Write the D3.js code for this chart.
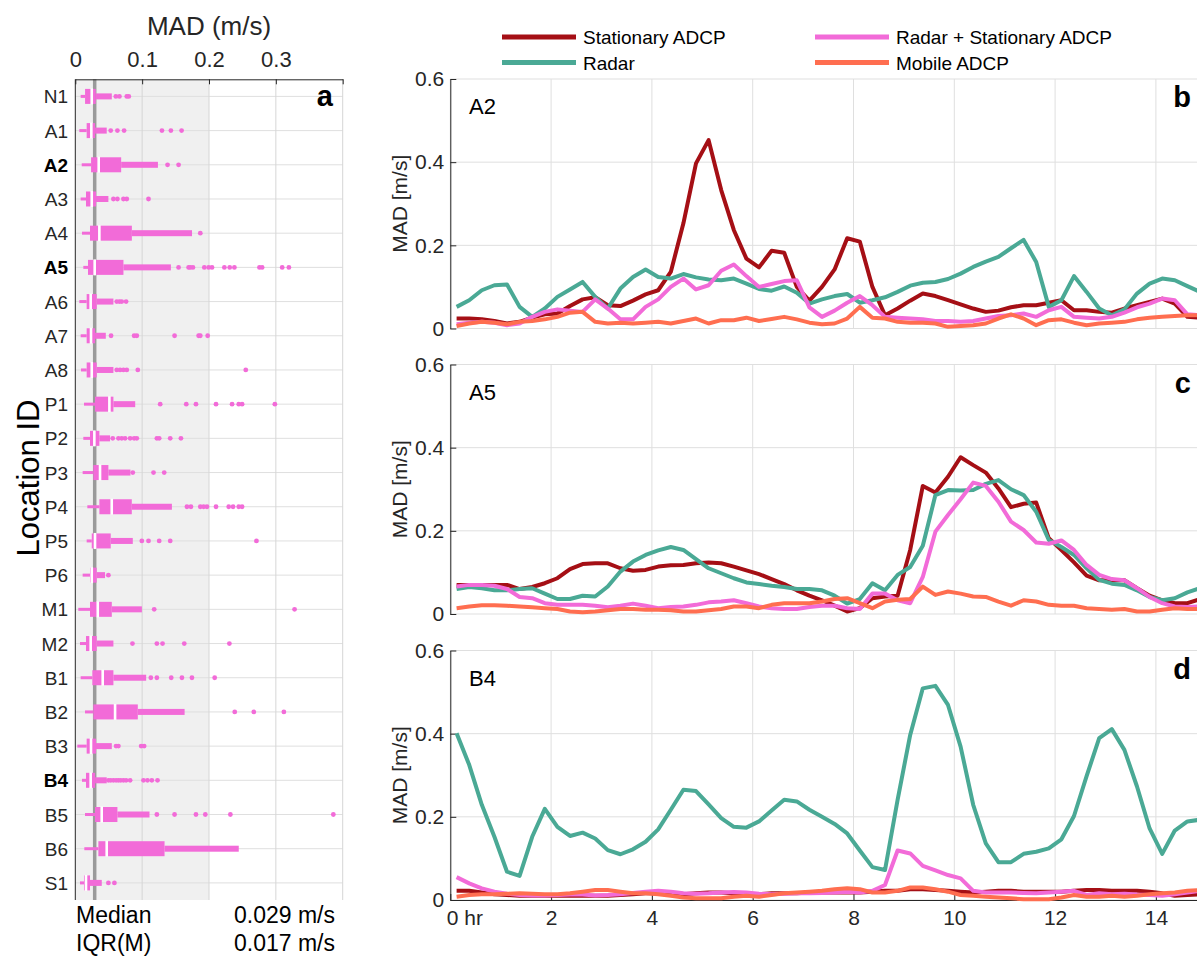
<!DOCTYPE html>
<html>
<head>
<meta charset="utf-8">
<script src="https://cdn.jsdelivr.net/npm/d3@7"></script>
<style>
body { margin: 0; background: #fff; }
svg { font-family: "Liberation Sans", Arial, sans-serif; }
</style>
</head>
<body>
<svg id="chart" width="1197" height="958"></svg>
<script>
// ---- panel a: spread of MAD per location ----
var locationIds = ["N1","A1","A2","A3","A4","A5","A6","A7","A8","P1","P2","P3","P4","P5","P6","M1","M2","B1","B2","B3","B4","B5","B6","S1"];
var boldIds = ["A2","A5","B4"];
var whiskerLow  = [0.008,0.006,0.0096,0.008,0.010,0.012,0.006,0.008,0.0085,0.013,0.012,0.011,0.018,0.017,0.011,0.0045,0.007,0.008,0.0145,0.003,0.010,0.0145,0.0135,0.007];
var boxLow      = [0.0146,0.017,0.0236,0.016,0.022,0.019,0.017,0.017,0.017,0.0295,0.022,0.027,0.036,0.0246,0.022,0.022,0.016,0.0255,0.027,0.017,0.016,0.0295,0.0345,0.013];
var medians     = [0.0246,0.024,0.035,0.0246,0.036,0.029,0.023,0.0235,0.0246,0.051,0.0285,0.037,0.0545,0.0295,0.0246,0.0336,0.023,0.041,0.0595,0.0235,0.023,0.0395,0.047,0.016];
var boxHigh     = [0.0306,0.0296,0.0686,0.031,0.0846,0.072,0.032,0.0296,0.032,0.057,0.036,0.0495,0.0845,0.053,0.032,0.0546,0.032,0.057,0.0935,0.031,0.0296,0.063,0.1335,0.022];
var whiskerHigh = [0.0546,0.047,0.1236,0.0495,0.1746,0.143,0.057,0.0456,0.057,0.0896,0.052,0.0825,0.1445,0.086,0.0445,0.0996,0.057,0.106,0.1635,0.0546,0.047,0.111,0.2445,0.0396];
var outliers = [
  [0.0606,0.066,0.077,0.080],
  [0.053,0.063,0.073,0.1296,0.143,0.159],
  [0.138,0.1545],
  [0.057,0.063,0.072,0.077,0.1095],
  [0.187],
  [0.1545,0.1695,0.172,0.176,0.193,0.1995,0.2045,0.223,0.231,0.238,0.2755,0.2795,0.3095,0.3195],
  [0.062,0.066,0.0695,0.076],
  [0.0535,0.088,0.092,0.1485,0.1845,0.187,0.198],
  [0.062,0.067,0.072,0.077,0.0935,0.255],
  [0.127,0.166,0.1805,0.2105,0.2345,0.2445,0.2495,0.2985],
  [0.056,0.0645,0.0695,0.0745,0.082,0.088,0.092,0.122,0.1255,0.142,0.158],
  [0.086,0.117,0.133],
  [0.167,0.173,0.187,0.192,0.197,0.2105,0.2295,0.236,0.2445,0.2495],
  [0.0995,0.1095,0.1255,0.142,0.271],
  [0.0495],
  [0.118,0.328],
  [0.0855,0.122,0.1305,0.163,0.2305],
  [0.113,0.122,0.1435,0.1595,0.1745,0.2085],
  [0.2385,0.267,0.312],
  [0.061,0.0645,0.0985,0.103],
  [0.0495,0.053,0.057,0.061,0.0645,0.068,0.072,0.076,0.082,0.102,0.108,0.1145,0.123],
  [0.122,0.1485,0.1805,0.1945,0.232,0.386],
  [],
  [0.0495,0.0585]
];
var overallMedian = 0.029;
var overallIqr = 0.017;
var shadeLimit = 0.2;
var madTicks = [0, 0.1, 0.2, 0.3];

// ---- panels b-d: MAD through the tide ----
var hours = [0.125,0.375,0.625,0.875,1.125,1.375,1.625,1.875,2.125,2.375,2.625,2.875,3.125,3.375,3.625,3.875,
  4.125,4.375,4.625,4.875,5.125,5.375,5.625,5.875,6.125,6.375,6.625,6.875,7.125,7.375,7.625,7.875,
  8.125,8.375,8.625,8.875,9.125,9.375,9.625,9.875,10.125,10.375,10.625,10.875,11.125,11.375,11.625,11.875,
  12.125,12.375,12.625,12.875,13.125,13.375,13.625,13.875,14.125,14.375,14.625,14.875];
var hourTicks = [0, 2, 4, 6, 8, 10, 12, 14];
var madTicksRight = [0, 0.2, 0.4, 0.6];
var seriesNames = ["Stationary ADCP", "Radar", "Radar + Stationary ADCP", "Mobile ADCP"];
var seriesColors = ["#a50f15", "#4aa995", "#f26bd8", "#ff6e50"];

var a2Stationary = [0.024,0.024,0.022,0.018,0.012,0.016,0.026,0.034,0.036,0.054,0.070,0.075,0.056,0.054,0.067,0.082,0.092,0.136,0.253,0.397,0.453,0.333,0.237,0.168,0.147,0.187,0.182,0.100,
  0.067,0.100,0.142,0.217,0.209,0.100,0.032,0.048,0.067,0.084,0.078,0.068,0.058,0.048,0.040,0.043,0.051,0.056,0.056,0.062,0.068,0.044,0.044,0.040,0.038,0.048,0.056,0.064,0.072,0.060,0.028,0.026];
var a2Radar = [0.052,0.068,0.092,0.104,0.106,0.052,0.028,0.048,0.076,0.094,0.112,0.076,0.048,0.096,0.124,0.142,0.124,0.120,0.131,0.123,0.118,0.116,0.120,0.108,0.095,0.091,0.101,0.086,
  0.060,0.070,0.078,0.083,0.062,0.068,0.075,0.088,0.103,0.110,0.112,0.119,0.132,0.148,0.161,0.172,0.193,0.213,0.160,0.052,0.068,0.126,0.088,0.048,0.032,0.046,0.084,0.108,0.120,0.116,0.102,0.088];
var a2Combined = [0.010,0.014,0.016,0.014,0.008,0.012,0.028,0.040,0.046,0.043,0.040,0.070,0.048,0.022,0.022,0.052,0.070,0.100,0.120,0.094,0.104,0.139,0.154,0.126,0.100,0.107,0.114,0.116,
  0.051,0.028,0.043,0.062,0.078,0.056,0.028,0.026,0.024,0.022,0.018,0.018,0.016,0.018,0.024,0.030,0.032,0.036,0.028,0.044,0.052,0.028,0.026,0.024,0.028,0.038,0.051,0.060,0.072,0.068,0.034,0.032];
var a2Mobile = [0.006,0.012,0.016,0.014,0.010,0.016,0.018,0.022,0.028,0.038,0.040,0.016,0.012,0.014,0.012,0.014,0.016,0.012,0.018,0.024,0.012,0.020,0.020,0.026,0.018,0.023,0.028,0.022,
  0.014,0.010,0.012,0.024,0.052,0.026,0.024,0.016,0.014,0.014,0.012,0.004,0.006,0.008,0.012,0.024,0.034,0.024,0.008,0.020,0.022,0.014,0.008,0.012,0.014,0.016,0.022,0.026,0.028,0.030,0.032,0.032];

var a5Stationary = [0.070,0.070,0.070,0.070,0.070,0.060,0.065,0.074,0.086,0.108,0.120,0.122,0.122,0.110,0.104,0.106,0.114,0.117,0.118,0.122,0.124,0.122,0.114,0.105,0.096,0.084,0.072,0.057,
  0.044,0.033,0.020,0.006,0.014,0.038,0.042,0.044,0.154,0.308,0.292,0.330,0.377,0.358,0.340,0.302,0.257,0.265,0.268,0.182,0.154,0.124,0.092,0.081,0.081,0.081,0.062,0.044,0.033,0.026,0.026,0.036];
var a5Radar = [0.060,0.065,0.062,0.057,0.057,0.060,0.062,0.049,0.036,0.036,0.044,0.042,0.066,0.102,0.126,0.142,0.153,0.161,0.154,0.132,0.110,0.098,0.086,0.076,0.072,0.068,0.065,0.060,
  0.060,0.057,0.044,0.025,0.036,0.074,0.057,0.094,0.113,0.164,0.286,0.298,0.297,0.298,0.313,0.322,0.300,0.286,0.246,0.178,0.161,0.142,0.110,0.082,0.073,0.070,0.057,0.041,0.033,0.038,0.052,0.062];
var a5Combined = [0.066,0.070,0.070,0.068,0.060,0.041,0.038,0.026,0.022,0.022,0.022,0.020,0.016,0.020,0.025,0.020,0.014,0.017,0.018,0.022,0.028,0.030,0.033,0.026,0.018,0.014,0.012,0.012,
  0.017,0.020,0.020,0.014,0.012,0.049,0.049,0.033,0.026,0.089,0.198,0.238,0.276,0.316,0.308,0.270,0.222,0.202,0.172,0.169,0.177,0.154,0.118,0.094,0.084,0.081,0.062,0.041,0.026,0.018,0.017,0.018];
var a5Mobile = [0.014,0.018,0.021,0.021,0.020,0.018,0.016,0.014,0.012,0.006,0.004,0.006,0.009,0.012,0.012,0.010,0.010,0.009,0.006,0.006,0.009,0.012,0.018,0.018,0.014,0.022,0.026,0.026,
  0.026,0.030,0.036,0.038,0.026,0.014,0.030,0.034,0.036,0.066,0.046,0.054,0.049,0.042,0.041,0.030,0.020,0.033,0.030,0.022,0.020,0.020,0.014,0.012,0.010,0.012,0.006,0.006,0.010,0.014,0.012,0.012];

var b4Stationary = [0.022,0.022,0.018,0.014,0.012,0.010,0.010,0.010,0.010,0.010,0.010,0.010,0.010,0.012,0.014,0.016,0.016,0.014,0.014,0.016,0.018,0.018,0.016,0.014,0.014,0.016,0.016,0.016,
  0.018,0.018,0.018,0.018,0.018,0.020,0.022,0.022,0.026,0.026,0.024,0.022,0.020,0.018,0.020,0.022,0.022,0.020,0.020,0.020,0.020,0.022,0.024,0.024,0.022,0.022,0.022,0.020,0.016,0.010,0.012,0.014];
var b4Radar = [0.401,0.325,0.229,0.152,0.068,0.058,0.152,0.219,0.176,0.154,0.162,0.148,0.120,0.110,0.122,0.140,0.170,0.217,0.265,0.262,0.230,0.197,0.176,0.174,0.189,0.215,0.241,0.237,
  0.217,0.200,0.183,0.160,0.119,0.079,0.072,0.241,0.397,0.509,0.515,0.469,0.369,0.229,0.136,0.091,0.091,0.111,0.116,0.124,0.146,0.202,0.298,0.389,0.411,0.361,0.273,0.172,0.111,0.167,0.189,0.193];
var b4Combined = [0.055,0.040,0.028,0.020,0.015,0.012,0.011,0.011,0.012,0.013,0.013,0.011,0.012,0.014,0.017,0.020,0.022,0.020,0.016,0.015,0.016,0.018,0.019,0.018,0.015,0.014,0.015,0.016,
  0.016,0.017,0.018,0.020,0.018,0.022,0.036,0.119,0.112,0.082,0.071,0.060,0.052,0.022,0.018,0.018,0.018,0.017,0.016,0.018,0.020,0.022,0.012,0.016,0.014,0.015,0.013,0.012,0.010,0.014,0.018,0.022];
var b4Mobile = [0.008,0.012,0.014,0.014,0.015,0.016,0.015,0.014,0.014,0.016,0.020,0.024,0.024,0.020,0.016,0.016,0.014,0.010,0.006,0.004,0.004,0.004,0.008,0.010,0.008,0.012,0.016,0.018,
  0.020,0.022,0.026,0.028,0.026,0.018,0.018,0.022,0.030,0.030,0.026,0.020,0.012,0.010,0.008,0.006,0.004,0.002,0.002,0.002,0.006,0.012,0.008,0.008,0.010,0.008,0.010,0.014,0.016,0.018,0.022,0.024];

var panels = [
  {site: "A2", letter: "b", series: [a2Stationary, a2Radar, a2Combined, a2Mobile]},
  {site: "A5", letter: "c", series: [a5Stationary, a5Radar, a5Combined, a5Mobile]},
  {site: "B4", letter: "d", series: [b4Stationary, b4Radar, b4Combined, b4Mobile]}
];

var svg = d3.select("#chart");
var axisColor = "#262626", gridColor = "#dfdfdf", boxColor = "#f26bd8";

// ================= panel a =================
var aLeft = 75.3, aRight = 342.7, aTop = 79.3, aBottom = 900;
var xa = d3.scaleLinear().domain([0, 0.4]).range([aLeft, aRight]);
var ya = d3.scaleBand().domain(locationIds).range([aTop, aBottom]);
var rowY = function(id) { return ya(id) + ya.bandwidth() / 2; };

var pa = svg.append("g");

pa.append("rect")
    .attr("x", xa(0)).attr("y", aTop)
    .attr("width", xa(shadeLimit) - xa(0)).attr("height", aBottom - aTop)
    .attr("fill", "#f0f0f0");

// grid
pa.selectAll("line.hgrid").data(locationIds).enter().append("line")
    .attr("x1", aLeft).attr("x2", aRight)
    .attr("y1", rowY).attr("y2", rowY)
    .attr("stroke", gridColor).attr("stroke-width", 1);
pa.selectAll("line.vgrid").data([0.1, 0.2, 0.3, 0.4]).enter().append("line")
    .attr("x1", function(d) { return xa(d); }).attr("x2", function(d) { return xa(d); })
    .attr("y1", aTop).attr("y2", aBottom)
    .attr("stroke", "#d6d6d6").attr("stroke-width", 1);

// overall median
pa.append("line")
    .attr("x1", xa(overallMedian)).attr("x2", xa(overallMedian))
    .attr("y1", aTop).attr("y2", aBottom)
    .attr("stroke", "#9a9a9a").attr("stroke-width", 3.5);

// boxes
var rows = pa.selectAll("g.row").data(locationIds).enter().append("g")
    .attr("transform", function(d) { return "translate(0," + rowY(d) + ")"; });

rows.append("rect")
    .attr("x", function(d, i) { return xa(whiskerLow[i]); })
    .attr("width", function(d, i) { return xa(boxLow[i]) - xa(whiskerLow[i]); })
    .attr("y", -1.5).attr("height", 3).attr("fill", boxColor);
rows.append("rect")
    .attr("x", function(d, i) { return xa(boxHigh[i]); })
    .attr("width", function(d, i) { return xa(whiskerHigh[i]) - xa(boxHigh[i]); })
    .attr("y", -3).attr("height", 6).attr("fill", boxColor);
rows.append("rect")
    .attr("x", function(d, i) { return xa(boxLow[i]); })
    .attr("width", function(d, i) { return xa(boxHigh[i]) - xa(boxLow[i]); })
    .attr("y", -7.5).attr("height", 15).attr("fill", boxColor);
rows.append("rect")
    .attr("x", function(d, i) { return xa(medians[i]) - 1.3; })
    .attr("width", 2.6)
    .attr("y", -8).attr("height", 16).attr("fill", "#fff");
rows.each(function(d, i) {
    d3.select(this).selectAll("circle").data(outliers[i]).enter().append("circle")
        .attr("cx", function(v) { return xa(v); }).attr("cy", 0)
        .attr("r", 2.4).attr("fill", boxColor);
});

// axes of panel a
var topAxis = d3.axisTop(xa).tickValues(madTicks.concat([0.4]))
    .tickSize(-5).tickSizeOuter(0)
    .tickFormat(function(d) { return d === 0.4 ? "" : d3.format("~g")(d); });
var ta = pa.append("g").attr("transform", "translate(0," + aTop + ")").call(topAxis);
ta.select(".domain").attr("stroke", axisColor);
ta.selectAll(".tick line").attr("stroke", axisColor);
ta.selectAll(".tick text").attr("font-size", 22).attr("fill", axisColor).attr("dy", -9)
    .attr("font-family", "Liberation Sans, Arial, sans-serif");

pa.append("line").attr("x1", aLeft).attr("x2", aLeft).attr("y1", aTop).attr("y2", aBottom)
    .attr("stroke", axisColor).attr("stroke-width", 1);

pa.selectAll("text.rowlab").data(locationIds).enter().append("text")
    .attr("x", 68).attr("y", function(d) { return rowY(d) + 7; })
    .attr("text-anchor", "end").attr("font-size", 19)
    .attr("font-weight", function(d) { return boldIds.indexOf(d) >= 0 ? "bold" : "normal"; })
    .attr("fill", function(d) { return boldIds.indexOf(d) >= 0 ? "#000" : axisColor; })
    .text(function(d) { return d; });

pa.append("text").attr("x", 209).attr("y", 35).attr("text-anchor", "middle")
    .attr("font-size", 26).attr("fill", axisColor).text("MAD (m/s)");
pa.append("text").attr("transform", "translate(39,478) rotate(-90)")
    .attr("text-anchor", "middle").attr("font-size", 31).attr("fill", "#000").text("Location ID");
pa.append("text").attr("x", 333).attr("y", 106).attr("text-anchor", "end")
    .attr("font-size", 29).attr("font-weight", "bold").text("a");

pa.append("text").attr("x", 76).attr("y", 923).attr("font-size", 23).text("Median");
pa.append("text").attr("x", 335).attr("y", 923).attr("text-anchor", "end").attr("font-size", 23)
    .text(d3.format(".3f")(overallMedian) + " m/s");
pa.append("text").attr("x", 76).attr("y", 951).attr("font-size", 23).text("IQR(M)");
pa.append("text").attr("x", 335).attr("y", 951).attr("text-anchor", "end").attr("font-size", 23)
    .text(d3.format(".3f")(overallIqr) + " m/s");

// ================= panels b-d =================
var pLeft = 450.3, pTops = [79, 364.5, 650.5], pHeight = 249.5;
var xt = d3.scaleLinear().domain([0, 16]).range([pLeft, pLeft + 16 * 50.4]);

panels.forEach(function(p, k) {
    var top = pTops[k];
    var yt = d3.scaleLinear().domain([0, 0.6]).range([top + pHeight, top]);
    var g = svg.append("g");

    g.selectAll("line.vg").data(hourTicks.concat([16])).enter().append("line")
        .attr("x1", function(d) { return xt(d); }).attr("x2", function(d) { return xt(d); })
        .attr("y1", top).attr("y2", top + pHeight)
        .attr("stroke", gridColor);
    g.selectAll("line.hg").data(madTicksRight).enter().append("line")
        .attr("x1", pLeft).attr("x2", xt(16))
        .attr("y1", function(d) { return yt(d); }).attr("y2", function(d) { return yt(d); })
        .attr("stroke", gridColor);

    var yAxis = d3.axisLeft(yt).tickValues(madTicksRight).tickSize(-6).tickSizeOuter(0)
        .tickFormat(d3.format("~g"));
    var ya2 = g.append("g").attr("transform", "translate(" + pLeft + ",0)").call(yAxis);
    ya2.select(".domain").attr("stroke", axisColor);
    ya2.selectAll(".tick line").attr("stroke", axisColor);
    ya2.selectAll(".tick text").attr("font-size", 21).attr("fill", axisColor).attr("x", -6)
        .attr("font-family", "Liberation Sans, Arial, sans-serif");

    if (k === 2) {
        var xAxis = d3.axisBottom(xt).tickValues(hourTicks).tickSize(-6).tickSizeOuter(0)
            .tickFormat(function(d) { return d === 0 ? "0 hr" : d; });
        var xa2 = g.append("g").attr("transform", "translate(0," + (top + pHeight) + ")").call(xAxis);
        xa2.select(".domain").attr("stroke", axisColor);
        xa2.selectAll(".tick line").attr("stroke", axisColor);
        xa2.selectAll(".tick text").attr("font-size", 21).attr("fill", axisColor).attr("dy", "1.05em")
            .attr("font-family", "Liberation Sans, Arial, sans-serif");
        xa2.selectAll(".tick text").filter(function(d) { return d === 0; }).attr("text-anchor", "start").attr("dx", -4);
    }

    var line = d3.line().x(function(d, i) { return xt(hours[i]); }).y(function(d) { return yt(d); });
    p.series.forEach(function(s, j) {
        g.append("path").datum(s).attr("d", line)
            .attr("fill", "none").attr("stroke", seriesColors[j])
            .attr("stroke-width", 4).attr("stroke-linejoin", "round");
    });

    g.append("text").attr("x", 469).attr("y", top + 35).attr("font-size", 22).text(p.site);
    g.append("text").attr("x", 1191).attr("y", top + 28).attr("text-anchor", "end")
        .attr("font-size", 29).attr("font-weight", "bold").text(p.letter);
    g.append("text").attr("transform", "translate(407," + (top + pHeight / 2) + ") rotate(-90)")
        .attr("text-anchor", "middle").attr("font-size", 21).attr("fill", axisColor).text("MAD [m/s]");
});

// legend
var legendPos = [[502, 37], [502, 62.5], [815, 37], [815, 62.5]];
var lg = svg.append("g");
seriesNames.forEach(function(name, j) {
    var pos = legendPos[j];
    lg.append("line").attr("x1", pos[0]).attr("x2", pos[0] + 74)
        .attr("y1", pos[1]).attr("y2", pos[1])
        .attr("stroke", seriesColors[j]).attr("stroke-width", 5);
    lg.append("text")
        .attr("x", pos[0] + 81).attr("y", pos[1] + 7)
        .attr("font-size", 19).attr("fill", "#000").text(name);
});
</script>
</body>
</html>
